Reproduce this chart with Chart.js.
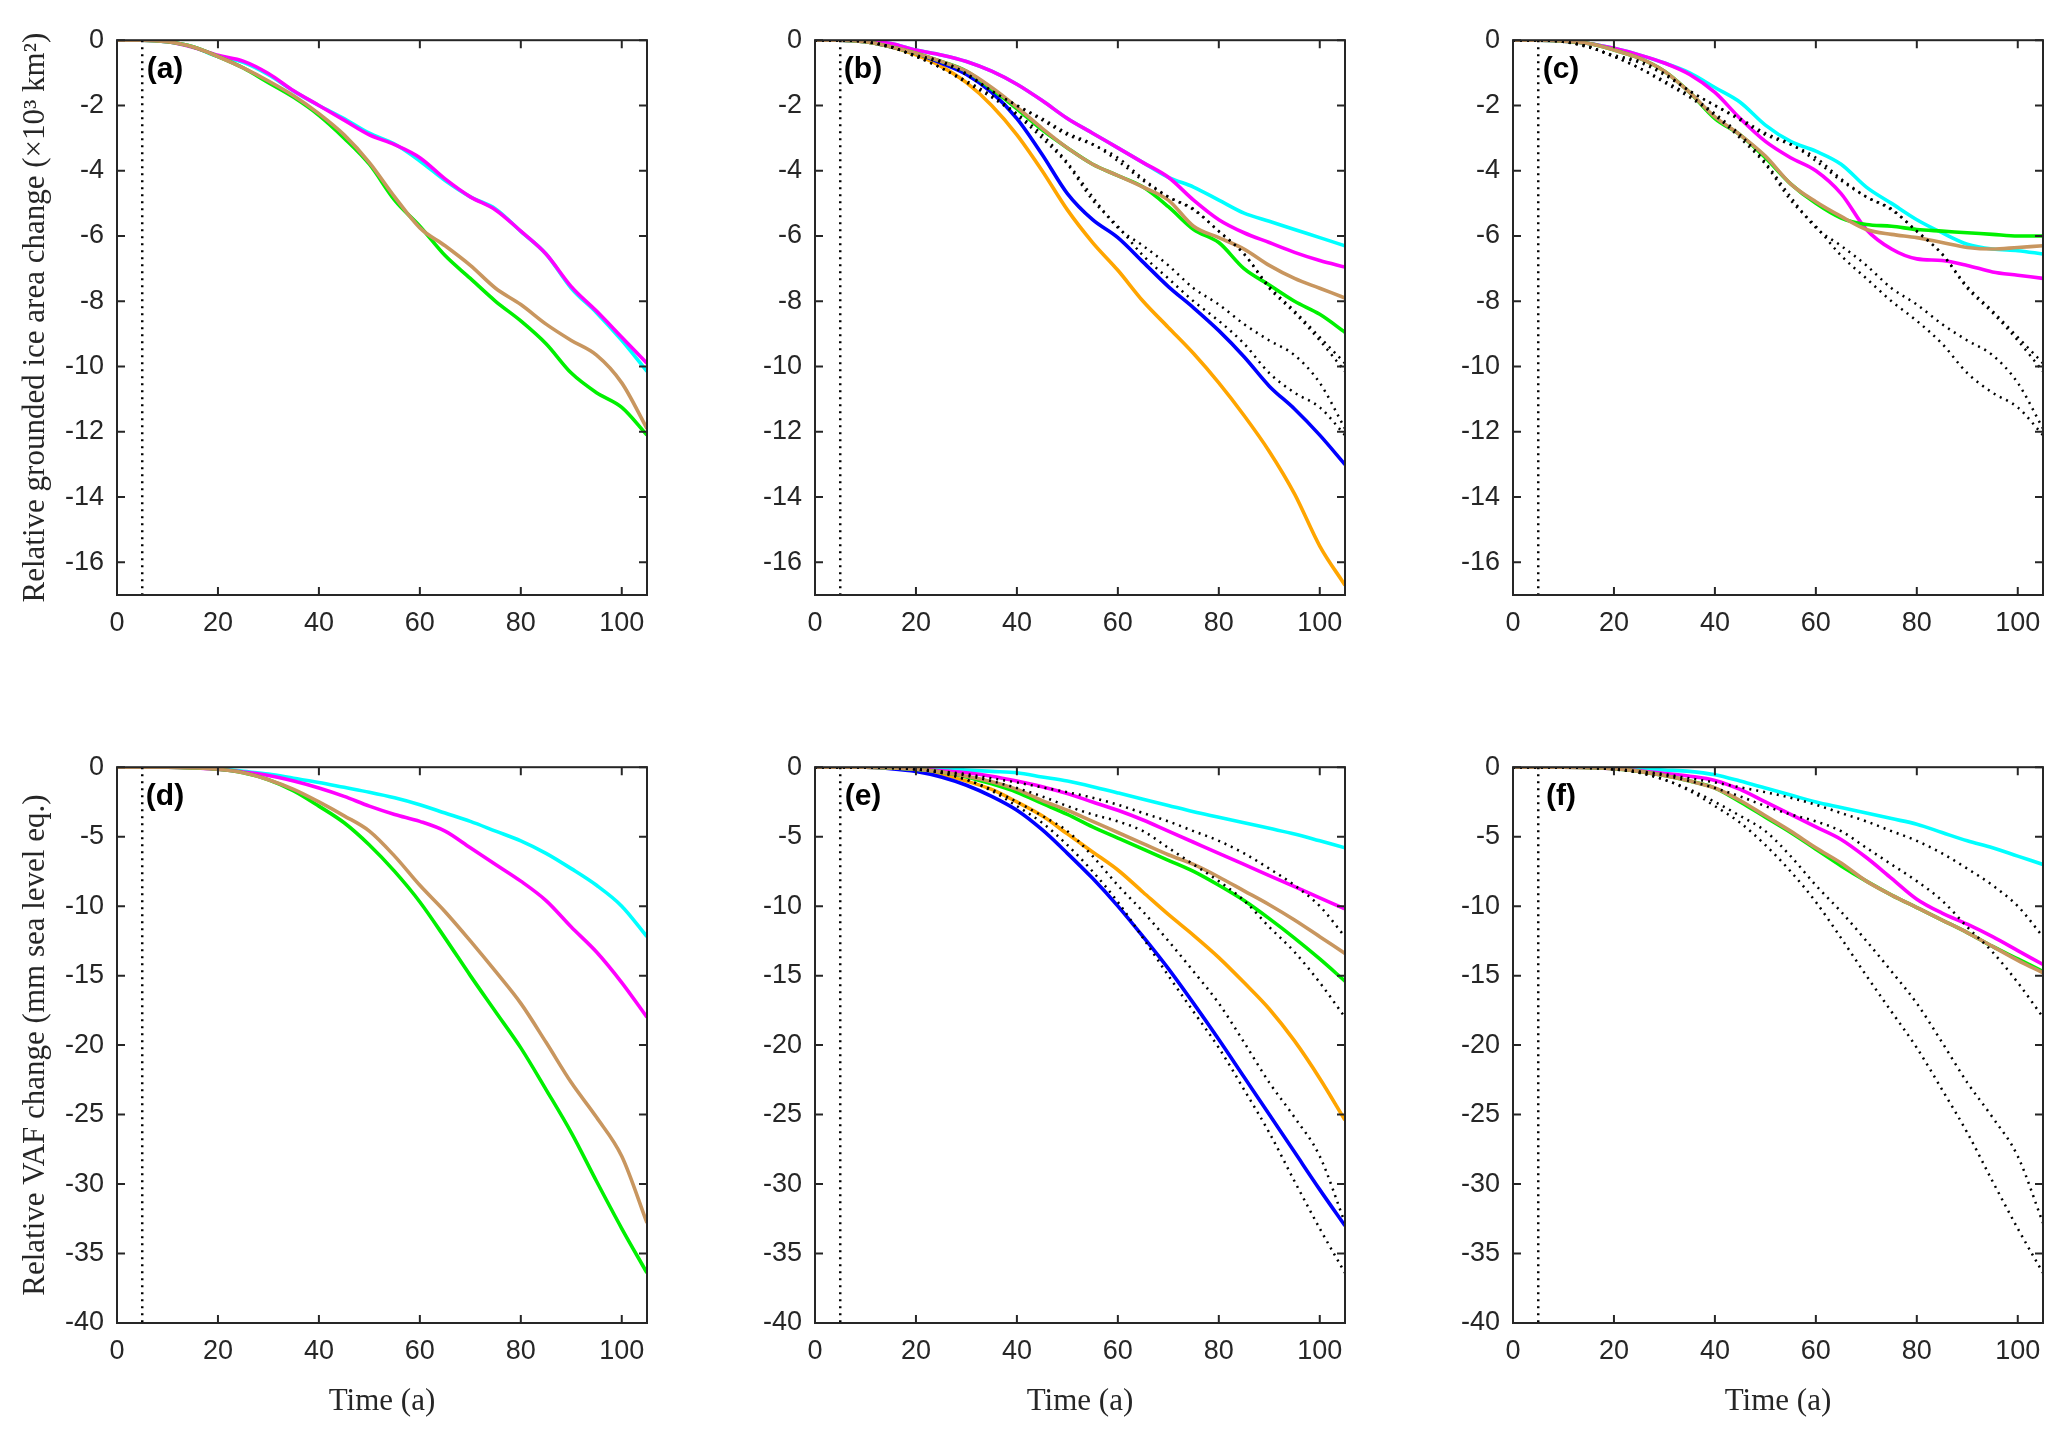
<!DOCTYPE html>
<html>
<head>
<meta charset="utf-8">
<title>Grounded ice area and VAF change</title>
<script src="https://cdn.jsdelivr.net/npm/chart.js@4.4.0/dist/chart.umd.min.js"></script>
<style>
  body { margin: 0; background: #fff; width: 2067px; height: 1436px; position: relative; overflow: hidden; }
  canvas { position: absolute; }
</style>
</head>
<body>
<canvas id="pa" width="667" height="644" style="left:0px;top:11px"></canvas>
<canvas id="pb" width="667" height="644" style="left:698px;top:11px"></canvas>
<canvas id="pc" width="667" height="644" style="left:1396px;top:11px"></canvas>
<canvas id="pd" width="667" height="695" style="left:0px;top:738px"></canvas>
<canvas id="pe" width="667" height="695" style="left:698px;top:738px"></canvas>
<canvas id="pf" width="667" height="695" style="left:1396px;top:738px"></canvas>
<script>
// time axis (years), shared by every series
const years = [0, 5, 10, 15, 20, 25, 30, 35, 40, 45, 50, 55, 60, 65, 70, 75, 80, 85, 90, 95, 100, 105];
const spinupEnd = 5;   // dotted vertical marker

// (a) grounded ice area change (x10^3 km^2)
const aCyan    = [0, 0, -0.05, -0.2, -0.5, -0.68, -1.06, -1.56, -2.0, -2.4, -2.85, -3.18, -3.7, -4.3, -4.8, -5.17, -5.86, -6.55, -7.6, -8.35, -9.2, -10.15];
const aMagenta = [0, 0, -0.05, -0.22, -0.46, -0.64, -1.02, -1.55, -2.0, -2.45, -2.9, -3.2, -3.6, -4.25, -4.8, -5.2, -5.85, -6.55, -7.55, -8.3, -9.1, -9.9];
const aGreen   = [0, 0, -0.05, -0.2, -0.5, -0.85, -1.3, -1.75, -2.3, -3.0, -3.8, -4.9, -5.7, -6.6, -7.3, -8.0, -8.6, -9.3, -10.2, -10.8, -11.25, -12.1];
const aTan     = [0, 0, -0.05, -0.2, -0.5, -0.85, -1.25, -1.7, -2.25, -2.9, -3.75, -4.8, -5.75, -6.3, -6.9, -7.6, -8.1, -8.7, -9.2, -9.65, -10.5, -11.9];

// (b)
const bCyan    = [0, 0, -0.03, -0.1, -0.3, -0.45, -0.65, -0.95, -1.35, -1.85, -2.4, -2.85, -3.3, -3.75, -4.2, -4.5, -4.9, -5.3, -5.55, -5.8, -6.05, -6.3];
const bMagenta = [0, 0, -0.03, -0.1, -0.3, -0.45, -0.65, -0.95, -1.35, -1.85, -2.4, -2.85, -3.3, -3.75, -4.2, -4.9, -5.5, -5.9, -6.2, -6.5, -6.75, -6.95];
const bGreen   = [0, 0, -0.05, -0.2, -0.4, -0.65, -0.95, -1.5, -2.1, -2.75, -3.3, -3.8, -4.15, -4.5, -5.1, -5.8, -6.2, -7.0, -7.5, -8.0, -8.4, -8.95];
const bTan     = [0, 0, -0.05, -0.2, -0.4, -0.65, -0.95, -1.45, -2.05, -2.7, -3.3, -3.8, -4.15, -4.5, -4.9, -5.7, -6.05, -6.4, -6.9, -7.3, -7.6, -7.9];
const bBlue    = [0, 0, -0.05, -0.2, -0.4, -0.7, -1.05, -1.6, -2.4, -3.5, -4.7, -5.5, -6.05, -6.8, -7.55, -8.2, -8.9, -9.7, -10.6, -11.3, -12.1, -13.0];
const bOrange  = [0, 0, -0.05, -0.2, -0.45, -0.8, -1.3, -2.0, -2.9, -4.0, -5.2, -6.2, -7.05, -8.0, -8.8, -9.6, -10.5, -11.5, -12.6, -13.9, -15.5, -16.7];

// (c)
const cCyan    = [0, 0, -0.03, -0.1, -0.25, -0.45, -0.7, -1.0, -1.45, -1.9, -2.6, -3.1, -3.4, -3.8, -4.5, -5.0, -5.5, -5.9, -6.25, -6.4, -6.45, -6.55];
const cMagenta = [0, 0, -0.03, -0.1, -0.25, -0.45, -0.7, -1.05, -1.6, -2.4, -3.1, -3.6, -4.0, -4.7, -5.8, -6.4, -6.7, -6.75, -6.9, -7.1, -7.2, -7.3];
const cGreen   = [0, 0, -0.03, -0.1, -0.3, -0.55, -0.95, -1.6, -2.4, -2.9, -3.6, -4.4, -5.0, -5.45, -5.65, -5.7, -5.8, -5.85, -5.9, -5.95, -6.0, -6.0];
const cTan     = [0, 0, -0.03, -0.1, -0.3, -0.55, -0.95, -1.6, -2.35, -2.9, -3.55, -4.4, -4.95, -5.4, -5.8, -5.95, -6.05, -6.2, -6.35, -6.4, -6.35, -6.3];

// (d) VAF change (mm sea level eq.)
const dCyan    = [0, 0, 0, 0, -0.1, -0.3, -0.5, -0.8, -1.1, -1.45, -1.8, -2.2, -2.7, -3.3, -3.9, -4.6, -5.3, -6.2, -7.3, -8.5, -10.0, -12.2];
const dMagenta = [0, 0, 0, -0.05, -0.15, -0.35, -0.6, -1.0, -1.5, -2.1, -2.8, -3.4, -3.9, -4.6, -5.8, -7.0, -8.2, -9.6, -11.5, -13.3, -15.5, -18.0];
const dTan     = [0, 0, 0, -0.05, -0.15, -0.4, -0.9, -1.6, -2.5, -3.5, -4.6, -6.4, -8.5, -10.4, -12.5, -14.7, -17.0, -19.8, -22.7, -25.2, -28.0, -32.8];
const dGreen   = [0, 0, 0, -0.05, -0.15, -0.4, -0.9, -1.7, -2.8, -4.0, -5.6, -7.5, -9.7, -12.3, -15.0, -17.6, -20.2, -23.2, -26.3, -29.8, -33.2, -36.4];

// (e)
const eCyan    = [0, 0, 0, 0, -0.05, -0.1, -0.2, -0.3, -0.4, -0.7, -1.0, -1.4, -1.85, -2.3, -2.75, -3.2, -3.6, -4.0, -4.4, -4.8, -5.3, -5.8];
const eMagenta = [0, 0, 0, -0.03, -0.1, -0.25, -0.4, -0.65, -1.0, -1.4, -1.9, -2.5, -3.1, -3.8, -4.6, -5.4, -6.2, -7.0, -7.8, -8.6, -9.4, -10.2];
const eTan     = [0, 0, 0, -0.05, -0.15, -0.35, -0.65, -1.05, -1.6, -2.4, -3.1, -3.9, -4.7, -5.5, -6.3, -7.0, -7.9, -8.9, -9.9, -11.0, -12.2, -13.4];
const eGreen   = [0, 0, 0, -0.05, -0.15, -0.35, -0.7, -1.2, -1.8, -2.6, -3.4, -4.3, -5.1, -5.9, -6.7, -7.5, -8.5, -9.6, -10.9, -12.3, -13.8, -15.4];
const eOrange  = [0, 0, 0, -0.05, -0.2, -0.5, -1.0, -1.6, -2.5, -3.5, -4.8, -6.1, -7.4, -9.0, -10.6, -12.1, -13.7, -15.5, -17.4, -19.7, -22.4, -25.4];
const eBlue    = [0, 0, 0, -0.1, -0.3, -0.7, -1.3, -2.1, -3.1, -4.5, -6.2, -8.0, -10.0, -12.2, -14.5, -17.0, -19.6, -22.3, -25.0, -27.7, -30.4, -33.0];

// (f)
const fCyan    = [0, 0, 0, 0, -0.03, -0.1, -0.2, -0.3, -0.55, -1.0, -1.5, -2.0, -2.5, -2.9, -3.3, -3.7, -4.1, -4.7, -5.3, -5.8, -6.4, -7.0];
const fMagenta = [0, 0, 0, -0.03, -0.1, -0.25, -0.45, -0.65, -0.95, -1.6, -2.5, -3.4, -4.3, -5.2, -6.5, -8.0, -9.5, -10.5, -11.3, -12.2, -13.2, -14.2];
const fGreen   = [0, 0, 0, -0.03, -0.1, -0.3, -0.6, -1.0, -1.5, -2.5, -3.6, -4.7, -5.9, -7.1, -8.2, -9.2, -10.1, -11.0, -11.9, -12.9, -13.8, -14.7];
const fTan     = [0, 0, 0, -0.03, -0.1, -0.3, -0.6, -1.0, -1.5, -2.4, -3.5, -4.6, -5.8, -6.9, -8.2, -9.2, -10.1, -11.0, -11.9, -12.9, -13.9, -14.8];

const areaTitle = 'Relative grounded ice area change (\u00d710\u00b3 km\u00b2)';
const vafTitle = 'Relative VAF change (mm sea level eq.)';
const timeTitle = 'Time (a)';

const CYAN = '#00FFFF', MAGENTA = '#FF00FF', GREEN = '#00F000', TAN = '#C8965F', ORANGE = '#FFA500', BLUE = '#0000FF';
const AXIS = '#262626';
const tickFont = { family: '"Liberation Sans", Arial, sans-serif', size: 27 };
const titleFont = { family: '"Liberation Serif", "Times New Roman", serif', size: 31 };

function pts(vals) {
  return years.map((t, i) => ({ x: t, y: vals[i] }));
}

function solid(vals, color) {
  return { data: pts(vals), borderColor: color, borderWidth: 3.6, pointRadius: 0,
           cubicInterpolationMode: 'monotone', fill: false };
}

function dotted(vals) {
  return { data: pts(vals), borderColor: '#000', borderWidth: 2.5, borderDash: [2, 5],
           pointRadius: 0, cubicInterpolationMode: 'monotone', fill: false };
}

function marker(yMin) {
  return { data: [{ x: spinupEnd, y: 0 }, { x: spinupEnd, y: yMin }], borderColor: '#000',
           borderWidth: 2.5, borderDash: [2, 5], pointRadius: 0, fill: false };
}

// MATLAB-like box with inward ticks on all sides, plus the panel letter
const boxTicks = {
  id: 'boxTicks',
  afterDatasetsDraw(chart, args, opts) {
    const { ctx, chartArea: a, scales } = chart;
    ctx.save();
    ctx.strokeStyle = AXIS;
    ctx.lineWidth = 2;
    ctx.strokeRect(a.left, a.top, a.right - a.left, a.bottom - a.top);
    const len = 8;
    ctx.beginPath();
    scales.x.ticks.forEach(t => {
      const px = scales.x.getPixelForValue(t.value);
      ctx.moveTo(px, a.bottom); ctx.lineTo(px, a.bottom - len);
      ctx.moveTo(px, a.top); ctx.lineTo(px, a.top + len);
    });
    scales.y.ticks.forEach(t => {
      const py = scales.y.getPixelForValue(t.value);
      ctx.moveTo(a.left, py); ctx.lineTo(a.left + len, py);
      ctx.moveTo(a.right, py); ctx.lineTo(a.right - len, py);
    });
    ctx.stroke();
    ctx.fillStyle = '#000';
    ctx.font = 'bold 30px "Liberation Sans", Arial, sans-serif';
    ctx.textAlign = 'center';
    ctx.textBaseline = 'middle';
    ctx.fillText(opts.label, a.left + 48, a.top + 30);
    ctx.restore();
  }
};

// Chart.js paints dataset 0 on top, so lists run from topmost to bottommost
function makePanel(id, label, datasets, yMin, yStep, yTitle, bottomRow) {
  new Chart(document.getElementById(id), {
    type: 'line',
    data: { datasets: datasets },
    plugins: [boxTicks],
    options: {
      responsive: false,
      devicePixelRatio: 1,
      animation: false,
      events: [],
      layout: { padding: { top: 20, right: 20, left: 0, bottom: 0 } },
      plugins: {
        legend: { display: false },
        tooltip: { enabled: false },
        boxTicks: { label: label }
      },
      scales: {
        x: {
          type: 'linear', min: 0, max: 105,
          grid: { display: false, drawTicks: false },
          border: { display: false },
          ticks: { stepSize: 20, includeBounds: false, padding: 12, maxRotation: 0, color: AXIS, font: tickFont },
          title: { display: bottomRow, text: timeTitle, color: AXIS, font: titleFont,
                   padding: { top: 0, bottom: 13 } },
          afterFit(s) { s.height = bottomRow ? 110 : 60; }
        },
        y: {
          type: 'linear', min: yMin, max: 0,
          grid: { display: false, drawTicks: false },
          border: { display: false },
          ticks: { stepSize: yStep, includeBounds: false, padding: 13, color: AXIS, font: tickFont },
          title: { display: !!yTitle, text: yTitle || '', color: AXIS, font: titleFont,
                   padding: { top: 17, bottom: 0 } },
          afterFit(s) { s.width = 117; }
        }
      }
    }
  });
}

const areaRefs = [aCyan, aMagenta, aGreen, aTan];
const vafRefs = [dCyan, dMagenta, dGreen, dTan];

makePanel('pa', '(a)', [
  marker(-17),
  solid(aTan, TAN), solid(aGreen, GREEN), solid(aMagenta, MAGENTA), solid(aCyan, CYAN)
], -17, 2, areaTitle, false);

makePanel('pb', '(b)', areaRefs.map(dotted).concat([
  marker(-17),
  solid(bTan, TAN), solid(bGreen, GREEN), solid(bMagenta, MAGENTA), solid(bCyan, CYAN),
  solid(bBlue, BLUE), solid(bOrange, ORANGE)
]), -17, 2, null, false);

makePanel('pc', '(c)', areaRefs.map(dotted).concat([
  marker(-17),
  solid(cTan, TAN), solid(cGreen, GREEN), solid(cMagenta, MAGENTA), solid(cCyan, CYAN)
]), -17, 2, null, false);

makePanel('pd', '(d)', [
  marker(-40),
  solid(dTan, TAN), solid(dGreen, GREEN), solid(dMagenta, MAGENTA), solid(dCyan, CYAN)
], -40, 5, vafTitle, true);

makePanel('pe', '(e)', vafRefs.map(dotted).concat([
  marker(-40),
  solid(eTan, TAN), solid(eGreen, GREEN), solid(eMagenta, MAGENTA), solid(eCyan, CYAN),
  solid(eBlue, BLUE), solid(eOrange, ORANGE)
]), -40, 5, null, true);

makePanel('pf', '(f)', vafRefs.map(dotted).concat([
  marker(-40),
  solid(fTan, TAN), solid(fGreen, GREEN), solid(fMagenta, MAGENTA), solid(fCyan, CYAN)
]), -40, 5, null, true);
</script>
</body>
</html>
